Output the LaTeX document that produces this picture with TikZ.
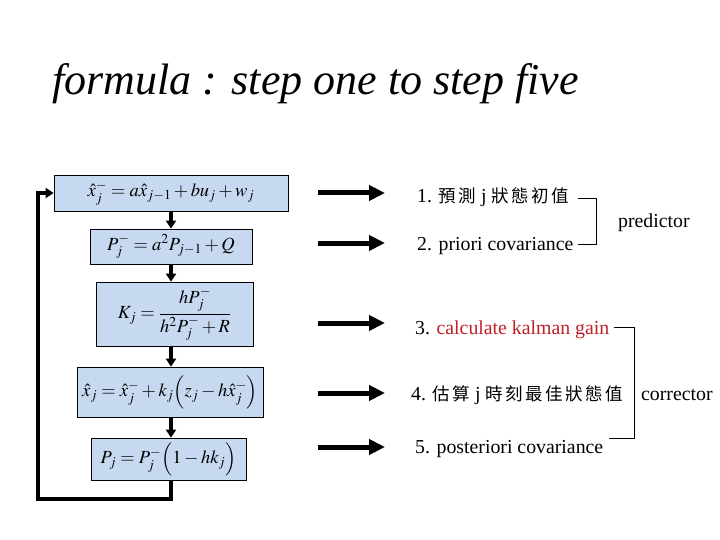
\documentclass[tikz,border=0pt]{standalone}
\usepackage{amsmath}
\usepackage{mathptmx}
\usepackage{fontspec}
\setmainfont{Liberation Serif}
\newfontfamily\cjk[LetterSpace=14]{Noto Sans CJK TC}
\newcommand{\cj}[1]{{\cjk\fontsize{17.5}{20}\selectfont #1}}
\usetikzlibrary{arrows.meta}
\definecolor{boxblue}{RGB}{198,217,240}
\definecolor{darkred}{RGB}{190,30,40}
\tikzset{
  fbox/.style={draw=black, line width=0.8pt, fill=boxblue, inner sep=0pt, font=\fontsize{18.5}{20}\selectfont},
  varrow/.style={line width=4pt, -{Triangle[length=8pt,width=10pt]}},
  harrow/.style={line width=5pt, -{Triangle[length=16pt,width=15pt]}},
  loopline/.style={line width=4pt},
  lbl/.style={anchor=base west, inner sep=0pt, font=\fontsize{19.8}{22}\selectfont},
  brk/.style={line width=0.9pt}
}
\begin{document}
\begin{tikzpicture}[x=1pt,y=-1pt]
\useasboundingbox (0,0) rectangle (720,540);
% title
\node[anchor=base west, inner sep=0pt, font=\fontsize{44}{48}\selectfont\itshape] (title) at (52,95) {formula : step one to step five};
% formula boxes
\node[fbox, minimum width=234, minimum height=36] (b1) at (171,193) {$\hat{x}_j^- = a\hat{x}_{j-1} + bu_j + w_j$};
\node[fbox, minimum width=162, minimum height=35] (b2) at (171,246.5) {$P_j^- = a^2 P_{j-1} + Q$};
\node[fbox, minimum width=157, minimum height=64] (b3) at (174.5,314) {$K_j = \dfrac{hP_j^-}{h^2P_j^- + R}$};
\node[fbox, minimum width=186, minimum height=50] (b4) at (170,392) {$\hat{x}_j = \hat{x}_j^- + k_j\Bigl(z_j - h\hat{x}_j^-\Bigr)$};
\node[fbox, minimum width=155, minimum height=42] (b5) at (168.5,459) {$P_j = P_j^-\Bigl(1 - hk_j\Bigr)$};
% vertical arrows
\coordinate (vx) at (171,0);
\draw[varrow] (b1.south -| vx) -- (b2.north -| vx);
\draw[varrow] (b2.south -| vx) -- (b3.north -| vx);
\draw[varrow] (b3.south -| vx) -- (b4.north -| vx);
\draw[varrow] (b4.south -| vx) -- (b5.north -| vx);
% feedback loop
\coordinate (l1) at (171,499);
\coordinate (l2) at (38,499);
\coordinate (l3) at (38,193);
\draw[loopline] (b5.south -| vx) -- (l1) -- (l2) -- (l3) -- ++(6,0);
\draw[varrow] (l3) -- (b1.west);
% horizontal arrows
\foreach \i/\yy in {1/193,2/243,3/323,4/393,5/447}{
  \coordinate (s\i) at (318,\yy);
  \coordinate (e\i) at (385,\yy);
  \draw[harrow] (s\i) -- (e\i);
}
% labels
\node[lbl] (t1) at (417,203) {1. \cj{預測} j \cj{狀態初值}};
\node[lbl] (t2) at (417,250) {2. priori covariance};
\node[lbl] (t3) at (415,334) {3. \textcolor{darkred}{calculate kalman gain}};
\node[lbl] (t4) at (411,400) {4. \cj{估算} j \cj{時刻最佳狀態值}};
\node[lbl] (t5) at (415,453) {5. posteriori covariance};
\node[lbl] (pred) at (618,227) {predictor};
\node[lbl] (corr) at (641,400) {corrector};
% brackets
\coordinate (p1) at (578,198);
\coordinate (p2) at (596,198);
\coordinate (p3) at (596,244);
\coordinate (p4) at (578,244);
\draw[brk] (p1) -- (p2) -- (p3) -- (p4);
\coordinate (c1) at (614,327);
\coordinate (c2) at (634,327);
\coordinate (c3) at (634,438);
\coordinate (c4) at (609,438);
\draw[brk] (c1) -- (c2) -- (c3) -- (c4);
\end{tikzpicture}
\end{document}
